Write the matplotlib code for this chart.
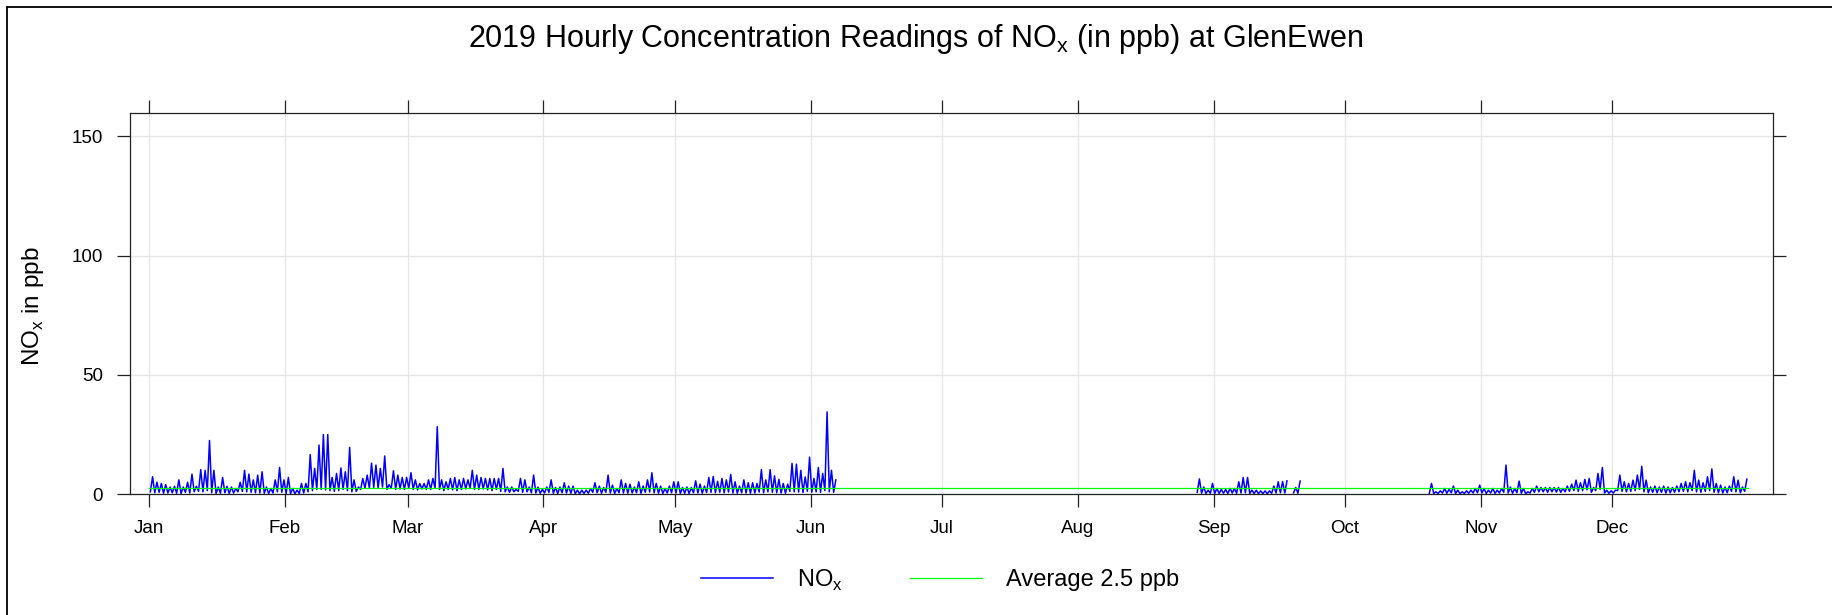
# -*- coding: utf-8 -*-
'''
2019 hourly NOx readings at GlenEwen, lattice style chart.
values read off the reference : daily low / daily peak in ppb
'''
import datetime as dt
import numpy as np
import matplotlib
matplotlib.use('Agg')
import matplotlib.pyplot as plt
import matplotlib.dates as mdates
from matplotlib.lines import Line2D

plt.rcParams['font.family'] = ['Liberation Sans', 'DejaVu Sans']
plt.rcParams['mathtext.fontset'] = 'custom'
plt.rcParams['mathtext.rm'] = 'Liberation Sans'

''' data '''
avg_nox = 2.5
month_labels = ['Jan', 'Feb', 'Mar', 'Apr', 'May', 'Jun',
                'Jul', 'Aug', 'Sep', 'Oct', 'Nov', 'Dec']
y_ticks = [0, 50, 100, 150]

# segment 1 : Jan 1 -> Jun 6
seg1_start = '2019-01-01'
seg1_peak = [7.3, 5.0, 4.5, 4.0, 3.0, 3.3, 6.0, 3.0, 5.0, 8.4, 3.3, 10.3, 10.0, 22.5, 10.0, 3.0,
             7.0, 3.3, 3.0, 2.4, 5.0, 10.0, 8.4, 6.0, 8.0, 9.4, 3.0, 2.4, 6.0, 11.2, 6.0,
             # Feb
             7.0, 2.4, 1.7, 4.5, 4.5, 16.6, 10.8, 20.6, 25.0, 25.0, 7.0, 8.7, 11.0, 9.4,
             19.6, 6.0, 3.0, 6.6, 8.0, 13.0, 12.2, 10.8, 16.0, 4.0, 9.8, 8.0, 7.0, 7.0,
             # Mar
             9.0, 6.0, 4.5, 4.5, 6.0, 6.6, 28.3, 6.0, 5.2, 6.6, 7.0, 6.0, 6.6, 6.0, 10.0, 8.0,
             7.0, 6.6, 6.6, 6.6, 6.6, 10.8, 3.0, 3.0, 2.0, 6.6, 6.0, 3.0, 8.0, 3.0, 2.0,
             # Apr
             3.0, 6.0, 2.8, 3.0, 4.8, 3.4, 3.4, 1.7, 1.7, 1.7, 2.4, 4.8, 3.4, 2.8, 8.0,
             3.8, 2.4, 6.0, 4.5, 4.2, 3.0, 5.2, 3.4, 6.0, 9.0, 4.5, 3.4, 2.4, 3.4, 5.2,
             # May
             5.2, 2.8, 3.0, 2.8, 5.6, 4.2, 3.4, 7.0, 7.4, 5.4, 6.6, 6.0, 8.3, 5.2, 3.4, 6.0,
             4.8, 4.8, 4.5, 10.3, 6.0, 10.3, 7.7, 6.2, 4.5, 4.2, 12.9, 12.6, 10.0, 7.2, 15.5,
             # Jun
             6.6, 11.2, 8.7, 34.5, 10.0, 6.0]
seg1_low = [1.0, 0.6, 0.8, 0.4, 0.5, 0.6, 0.4, 0.3, 0.8, 0.5, 1.0, 1.2, 1.0, 1.5, 0.6, 0.3,
            0.4, 0.6, 0.3, 0.5, 1.0, 1.2, 1.0, 0.8, 0.6, 0.5, 0.4, 0.3, 0.5, 1.0, 0.8,
            0.3, 0.2, 0.2, 0.3, 0.5, 1.0, 1.5, 2.0, 2.0, 1.8, 1.5, 1.2, 1.5, 2.0,
            1.5, 1.0, 1.2, 2.0, 2.5, 2.5, 2.8, 2.5, 3.0, 2.0, 2.5, 2.0, 2.2, 2.0,
            2.5, 2.0, 1.8, 2.2, 2.0, 2.0, 2.5, 2.0, 1.5, 2.0, 1.8, 1.5, 2.0, 2.2, 2.5, 2.0,
            2.0, 2.2, 1.8, 1.5, 2.0, 1.2, 1.0, 0.8, 1.0, 1.2, 0.8, 1.0, 0.6, 0.5, 0.4,
            0.5, 0.8, 0.4, 0.3, 0.6, 0.5, 0.4, 0.2, 0.2, 0.3, 0.4, 0.8, 0.6, 0.4, 0.8,
            0.5, 0.3, 0.6, 0.5, 0.4, 0.5, 0.6, 0.4, 0.8, 0.9, 0.6, 0.4, 0.3, 0.5, 0.6,
            0.5, 0.3, 0.4, 0.3, 0.6, 0.5, 0.4, 0.7, 0.8, 0.6, 0.8, 0.6, 0.9, 0.5, 0.4, 0.6,
            0.5, 0.4, 0.5, 0.9, 0.6, 1.0, 0.8, 0.6, 0.5, 0.4, 1.2, 1.0, 0.9, 0.7, 1.2,
            0.8, 1.0, 0.8, 1.5, 1.0, 0.8]

# segment 2 : Aug 28 -> Sep 20
seg2_start = '2019-08-28'
seg2_peak = [6.4, 3.0, 1.7, 4.5, 2.4, 2.0, 2.0, 2.4, 2.4, 5.2, 7.0, 7.0, 1.7, 1.7, 1.4, 1.4,
             1.4, 3.4, 5.2, 5.3, 5.6, np.nan, 2.8, 5.5]
seg2_low = [0.8, 0.4, 0.3, 0.4, 0.3, 0.3, 0.4, 0.3, 0.5, 0.4, 0.5, 0.6, 0.3, 0.3, 0.2, 0.2,
            0.2, 0.4, 0.5, 0.6, 0.5, np.nan, 0.6, 0.4]

# segment 3 : Oct 20 -> Dec 31
seg3_start = '2019-10-20'
seg3_peak = [4.5, 1.0, 1.4, 2.4, 2.0, 3.4, 1.7, 1.0, 1.4, 1.7, 2.4, 3.8,
             # Nov
             2.4, 1.7, 2.4, 1.7, 2.4, 12.2, 3.0, 2.4, 5.5, 2.4, 1.0, 2.4, 3.4, 2.8, 2.8,
             2.8, 2.8, 2.8, 2.4, 3.4, 4.2, 5.9, 4.8, 6.2, 6.6, 2.8, 8.7, 11.2, 1.7, 1.4,
             # Dec
             1.7, 8.0, 5.2, 4.5, 5.9, 8.0, 11.7, 5.9, 3.0, 3.4, 3.0, 3.4, 3.0, 2.8, 3.4, 4.5,
             5.2, 4.8, 10.0, 5.9, 4.8, 7.3, 10.6, 4.5, 3.8, 3.0, 3.4, 7.3, 5.9, 3.0, 6.3]
seg3_low = [0.4, 0.3, 0.3, 0.5, 0.4, 0.6, 0.3, 0.2, 0.3, 0.4, 0.5, 0.6,
            0.5, 0.3, 0.5, 0.3, 0.5, 0.8, 0.5, 0.4, 0.6, 0.4, 0.2, 0.5, 0.8, 1.0, 1.0,
            0.8, 1.0, 0.9, 0.8, 1.0, 1.2, 1.5, 1.2, 1.5, 1.8, 0.8, 1.5, 2.0, 0.5, 0.4,
            0.5, 1.5, 1.2, 1.0, 1.2, 1.5, 2.0, 1.0, 0.6, 0.8, 0.6, 0.8, 0.5, 0.6, 0.8, 1.0,
            1.2, 1.0, 1.5, 1.0, 0.8, 1.2, 1.5, 0.8, 0.6, 0.5, 0.6, 1.2, 1.0, 0.6, 1.2]


def seg_xy(start, low, peak):
    # low in the first half of the day, peak in the second half
    t0 = mdates.date2num(dt.datetime.strptime(start, '%Y-%m-%d'))
    xs, ys = [], []
    for i in range(len(peak)):
        xs += [t0 + i + 0.25, t0 + i + 0.75]
        ys += [low[i], peak[i]]
    return xs, ys


x, y = [], []
for s, lo, pk in [(seg1_start, seg1_low, seg1_peak),
                  (seg2_start, seg2_low, seg2_peak),
                  (seg3_start, seg3_low, seg3_peak)]:
    xs, ys = seg_xy(s, lo, pk)
    x += xs + [xs[-1] + 0.01]
    y += ys + [np.nan]

t_jan = mdates.date2num(dt.datetime(2019, 1, 1))
t_end = mdates.date2num(dt.datetime(2019, 12, 31, 23))

''' plot '''
W, H = 1832, 615
fig = plt.figure(figsize=(W / 100, H / 100), dpi=100)
ax = fig.add_axes([129.7 / W, 1 - 494.2 / H, (1772.5 - 129.7) / W, (494.2 - 112.8) / H])

ax.plot(x, y, color='#0000FF', lw=1.1, label=r'NO$_\mathrm{x}$')
ax.plot([t_jan, t_end], [avg_nox, avg_nox], color='#00FF00', lw=0.9,
        label='Average %.1f ppb' % avg_nox)

ax.set_xlim(t_jan - 4.47, t_jan + 370.6)
ax.set_ylim(0, 159.8)
ax.set_xticks([mdates.date2num(dt.datetime(2019, m, 1)) for m in range(1, 13)])
ax.set_xticklabels(month_labels)
ax.set_yticks(y_ticks)
ax.grid(True, color='#E6E6E6', lw=0.9)
ax.set_axisbelow(True)
for sp in ax.spines.values():
    sp.set_linewidth(0.9)
    sp.set_color('#222222')
ax.tick_params(direction='out', length=9.4, width=0.9, color='#222222',
               top=True, right=True, labeltop=False, labelright=False, labelsize=13.5)
ax.tick_params(axis='x', pad=9.5)
ax.tick_params(axis='y', pad=10)

fig.text(0.5, 1 - 39 / H, r'2019 Hourly Concentration Readings of NO$_\mathrm{x}$ (in ppb) at GlenEwen',
         ha='center', va='center', fontsize=22)
fig.text(33.5 / W, 1 - 306 / H, r'NO$_\mathrm{x}$ in ppb', rotation=90,
         ha='center', va='center', fontsize=17.5)

fig.legend(loc='center', bbox_to_anchor=(940 / W, 1 - 580 / H), ncol=2, frameon=False,
           fontsize=17, handlelength=3.05, handletextpad=1.0, columnspacing=2.85)

# outer frame (cut off on the right and bottom)
fig.add_artist(Line2D([6.5 / W, 6.5 / W], [0, 1 - 7 / H], transform=fig.transFigure,
                      color='black', lw=1.3))
fig.add_artist(Line2D([6.5 / W, 1], [1 - 7 / H, 1 - 7 / H], transform=fig.transFigure,
                      color='black', lw=1.3))

fig.savefig('out.png', dpi=100)
